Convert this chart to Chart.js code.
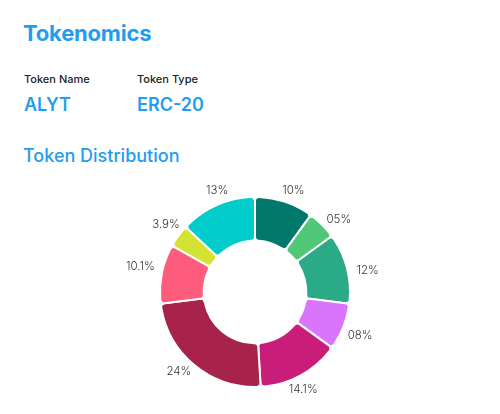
<!DOCTYPE html>
<html lang="en">

<head>
  <meta charset="UTF-8" />
  <meta name="viewport" content="width=device-width, initial-scale=1.0">
  <title>Tokenomics</title>
  <script src="https://cdn.jsdelivr.net/npm/chart.js"></script>

  <style>
    body {
      margin: 0;
      width: 500px;
      height: 414px;
      background: #fff;
      font-family: Inter, "Open Sans", sans-serif;
      position: relative;
      overflow: hidden;
    }

    .title {
      position: absolute;
      left: 23px;
      top: 20px;
      margin: 0;
      font-size: 22px;
      font-weight: 700;
      color: #1f9df1;
      letter-spacing: -0.2px;
    }

    .field {
      position: absolute;
      top: 72px;
    }

    .field .label {
      font-size: 11px;
      font-weight: 500;
      color: #222;
    }

    .field .value {
      margin-top: 8px;
      font-size: 18px;
      font-weight: 600;
      color: #1f9df1;
    }

    .subtitle {
      position: absolute;
      left: 23px;
      top: 145px;
      margin: 0;
      font-size: 18px;
      font-weight: 500;
      color: #1f9df1;
    }

    .chart-box {
      position: absolute;
      left: 94.5px;
      top: 161.5px;
      width: 320px;
      height: 260px;
    }
  </style>
</head>

<body>
  <h1 class="title">Tokenomics</h1>
  <div class="field" style="left:24px">
    <div class="label">Token Name</div>
    <div class="value">ALYT</div>
  </div>
  <div class="field" style="left:137px">
    <div class="label">Token Type</div>
    <div class="value">ERC-20</div>
  </div>
  <h2 class="subtitle">Token Distribution</h2>

  <div class="chart-box">
    <canvas id="tokenChart"></canvas>
  </div>

  <script>
    // slices clockwise from the top
    const sliceLabels = ['10%', '05%', '12%', '08%', '14.1%', '24%', '10.1%', '3.9%', '13%'];
    const sliceValues = [10, 5, 12, 8, 14.1, 24, 10.1, 3.9, 13];
    const sliceColors = ['#00796b', '#50c878', '#2aaa86', '#db74fc', '#c81e7a',
      '#a8234b', '#fd5c7c', '#d4e232', '#00cccc'];

    // draws the percent text just outside each slice
    const outsideLabels = {
      id: 'outsideLabels',
      afterDatasetsDraw(chart) {
        const ctx = chart.ctx;
        const meta = chart.getDatasetMeta(0);
        ctx.save();
        ctx.font = '300 11.5px Inter, "Open Sans", sans-serif';
        ctx.fillStyle = '#333';
        ctx.textAlign = 'center';
        ctx.textBaseline = 'middle';
        meta.data.forEach((arc, i) => {
          const p = arc.getProps(['x', 'y', 'startAngle', 'endAngle', 'outerRadius'], true);
          const mid = (p.startAngle + p.endAngle) / 2 + 0.05;
          const text = chart.data.labels[i];
          const w = ctx.measureText(text).width;
          const r = p.outerRadius + 9;
          const cx = p.x + Math.cos(mid) * (r + w / 2 * Math.abs(Math.cos(mid)));
          const cy = p.y + Math.sin(mid) * (r + 5 * Math.abs(Math.sin(mid)));
          ctx.fillText(text, cx, cy);
        });
        ctx.restore();
      }
    };

    new Chart(document.getElementById('tokenChart'), {
      type: 'doughnut',
      data: {
        labels: sliceLabels,
        datasets: [{
          data: sliceValues,
          backgroundColor: sliceColors,
          borderColor: '#fff',
          borderWidth: 2,
          borderRadius: 4,
          hoverOffset: 0
        }]
      },
      options: {
        responsive: true,
        maintainAspectRatio: false,
        animation: false,
        cutout: '54%',
        layout: { padding: 34 },
        plugins: {
          legend: { display: false },
          tooltip: { enabled: false }
        }
      },
      plugins: [outsideLabels]
    });
  </script>
</body>

</html>
